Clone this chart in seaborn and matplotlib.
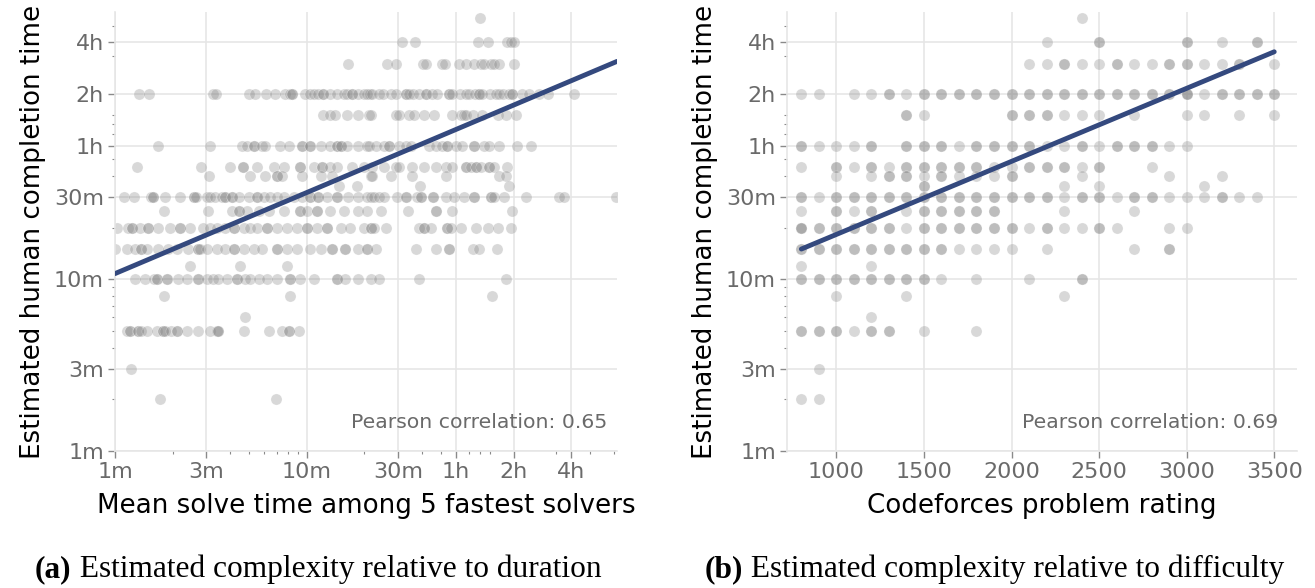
import numpy as np
import pandas as pd
import matplotlib
matplotlib.use("Agg")
import matplotlib.pyplot as plt
import seaborn as sns
from matplotlib.ticker import FixedLocator, FixedFormatter, LogLocator, NullFormatter

# ---------------- data ----------------
# Left panel: for each estimated human completion time (minutes),
# the mean solve time among the 5 fastest solvers (minutes) of each problem.
dur_330 = [80]
dur_240 = [31.3, 36.6, 77.8, 87.7, 111, 116, 120]
dur_180 = [16.5, 26.3, 29.3, 40.4, 41.7, 51.0, 52.7, 61.9, 67.6, 74.7, 80.9, 84.2,
           91.2, 95, 100.8, 120.5]
dur_120 = [1.34, 1.50, 3.24, 3.37, 4.97, 5.39, 6.15, 6.86, 7.74, 8.22, 8.39, 8.39, 9.84,
           10.4, 10.9, 11.5, 12.1, 12.1, 13.3, 14.4, 15.6, 16.2, 17.3, 17.3, 18.4, 19.9,
           21.4, 20.7, 22.0, 23.8, 25.0, 27.4, 29.1, 32.8, 32.8, 34.1, 36.0, 38.5, 41.7,
           41.7, 45.0, 48.0, 55.2, 55.2, 57.5, 63.0, 67.6, 70.3, 75.0, 79.3, 79.3, 82.5,
           90.0, 96.9, 100.8, 105.0, 113, 118, 118, 133, 144.6, 163, 180.6, 249]
dur_90 = [12.1, 13.3, 14.1, 16.2, 18.4, 21.1, 21.6, 29.1, 30.3, 34.1, 36.3, 40.9, 46.2,
          57.5, 63.6, 66.3, 67.6, 73.3, 82.5, 98.9, 109, 123]
dur_60 = [1.67, 3.13, 4.59, 4.88, 5.28, 5.28, 5.84, 6.08, 7.29, 8.05, 9.45, 9.45, 10.45,
          10.45, 11.8, 13.3, 14.4, 14.4, 15.0, 15.0, 16.2, 18.4, 20.7, 21.1, 22.9, 25.3,
          26.8, 26.8, 30.3, 32.8, 34.8, 43.4, 47.1, 51.0, 54.2, 54.2, 59.9, 64.9, 74.7,
          74.7, 84.2, 89.3, 100.8, 125.5, 147.6]
dur_45 = [1.31, 2.81, 3.99, 4.65, 4.65, 5.50, 6.72, 7.59, 9.27, 9.27, 10.9, 12.0, 12.0,
          13.3, 14.4, 17.3, 19.9, 22.0, 25.3, 29.1, 30.3, 35.5, 40.9, 47.1, 53.1, 57.5,
          67.6, 67.6, 71.8, 76.2, 76.2, 80.9, 89.3, 89.3, 95, 111]
dur_40 = [3.11, 5.08, 6.08, 7.0, 7.0, 7.43, 9.45, 11.8, 13.5, 21.6, 22.0, 27.4, 35.3,
          53.1, 100.8, 109]
dur_35 = [14.7, 18.2, 38.8, 113]
dur_30 = [1.12, 1.25, 1.54, 1.58, 1.58, 1.82, 2.17, 2.57, 2.57, 2.65, 3.01, 3.13, 3.33,
          3.61, 3.76, 3.76, 4.07, 4.07, 4.41, 4.97, 5.50, 5.50, 5.96, 6.46, 7.0, 7.59,
          8.56, 9.45, 10.45, 10.45, 11.5, 11.5, 12.8, 14.4, 14.4, 16.5, 18.4, 20.7, 21.6,
          22.4, 23.8, 25.3, 29.7, 32.8, 32.8, 37.7, 39.3, 39.3, 45.3, 45.3, 53.1, 58.7,
          66.3, 74.7, 74.7, 91.2, 91.2, 95, 107, 139, 208, 220, 411]
dur_25 = [1.80, 3.07, 4.07, 4.41, 4.41, 4.88, 5.61, 6.32, 7.59, 9.27, 9.27, 10.0, 11.3,
          11.3, 13.3, 15.6, 18.4, 20.7, 24.3, 33.9, 47.1, 47.1, 57.5, 117]
dur_20 = [1.02, 1.17, 1.22, 1.22, 1.35, 1.49, 1.49, 1.68, 1.93, 2.19, 2.19, 2.46, 2.89,
          3.13, 3.40, 3.76, 4.16, 4.16, 4.68, 5.08, 5.50, 6.20, 6.20, 7.0, 7.90, 8.91,
          10.0, 10.0, 11.3, 12.8, 12.8, 15.0, 16.9, 19.9, 21.6, 21.6, 22.4, 25.8, 38.5,
          40.9, 40.9, 44.3, 54.2, 54.2, 56.4, 63.6, 76.2, 87.7, 98.9, 116]
dur_15 = [1.0, 1.15, 1.27, 1.37, 1.37, 1.46, 1.68, 1.89, 2.10, 2.41, 2.72, 2.72, 2.78,
          3.01, 3.40, 3.76, 4.16, 4.16, 4.68, 5.28, 5.84, 7.0, 7.0, 7.90, 8.91, 10.45,
          11.8, 13.5, 13.5, 15.9, 15.9, 18.4, 20.7, 20.7, 22.9, 37.0, 47.5, 55.2, 55.2,
          73.3, 79.3, 97.7]
dur_12 = [2.46, 4.47, 7.90]
dur_10 = [1.27, 1.43, 1.59, 1.65, 1.65, 1.86, 1.86, 2.14, 2.37, 2.72, 2.72, 3.01, 3.26,
          3.46, 3.84, 4.33, 4.33, 4.78, 5.08, 5.61, 6.20, 7.0, 8.22, 8.22, 9.27, 10.9,
          14.3, 14.3, 15.9, 18.4, 21.6, 23.8, 38.5, 110]
dur_8 = [1.81, 8.22, 92.3]
dur_6 = [4.74]
dur_5 = [1.15, 1.20, 1.20, 1.32, 1.32, 1.37, 1.46, 1.65, 1.78, 1.78, 1.82, 1.97, 2.10,
         2.10, 2.37, 2.72, 3.13, 3.40, 3.46, 3.46, 4.72, 6.32, 7.43, 8.05, 8.05, 9.08]
dur_3 = [1.21]
dur_2 = [1.71, 6.94]

# Right panel: for each estimated human completion time (minutes),
# the Codeforces rating of each problem (repeats = several problems).
cf_330 = [2400]
cf_240 = [2200, 2500, 2500, 3000, 3000, 3200, 3400, 3400]
cf_180 = [2100, 2200, 2300, 2300, 2400, 2500, 2600, 2600, 2700, 2800, 2900, 2900, 3000,
          3000, 3100, 3200, 3300, 3300, 3500]
cf_120 = [800, 900, 1100, 1200, 1300, 1300, 1400, 1500, 1500, 1600, 1600, 1700, 1700,
          1800, 1800, 1900, 1900, 2000, 2000, 2100, 2100, 2200, 2200, 2300, 2300, 2400,
          2400, 2500, 2500, 2600, 2600, 2700, 2700, 2800, 2800, 2900, 2900, 3000, 3000,
          3000, 3100, 3200, 3200, 3300, 3300, 3400, 3400, 3500, 3500]
cf_90 = [1400, 1400, 1500, 2000, 2000, 2100, 2100, 2200, 2200, 2300, 2400, 2500, 2700,
         3000, 3100, 3300, 3500]
cf_60 = [800, 800, 900, 1000, 1100, 1200, 1200, 1400, 1400, 1500, 1500, 1600, 1600, 1700,
         1800, 1800, 1900, 1900, 2000, 2000, 2100, 2100, 2200, 2300, 2400, 2400, 2500,
         2600, 2600, 2700, 2700, 2800, 2800, 2900, 3000]
cf_45 = [800, 1000, 1000, 1100, 1200, 1200, 1300, 1400, 1400, 1500, 1500, 1600, 1600,
         1700, 1700, 1800, 1800, 1900, 2000, 2100, 2100, 2200, 2200, 2300, 2300, 2400,
         2500, 2500, 2800]
cf_40 = [1000, 1200, 1300, 1300, 1400, 1400, 1500, 1600, 1600, 1700, 1800, 1900, 2000,
         2000, 2400, 2900, 3200]
cf_35 = [1500, 1500, 2300, 2500, 3100]
cf_30 = [800, 800, 900, 1000, 1000, 1100, 1100, 1200, 1200, 1300, 1300, 1400, 1400, 1500,
         1500, 1600, 1600, 1700, 1700, 1800, 1800, 1900, 1900, 2000, 2000, 2100, 2100,
         2200, 2200, 2300, 2400, 2400, 2500, 2500, 2600, 2700, 2700, 2800, 2800, 2900,
         3000, 3100, 3200, 3200, 3300, 3400]
cf_25 = [800, 1000, 1000, 1100, 1200, 1200, 1400, 1500, 1500, 1600, 1600, 1700, 1700,
         1800, 1800, 1900, 1900, 2300, 2700]
cf_20 = [800, 800, 800, 900, 900, 1000, 1000, 1100, 1100, 1200, 1200, 1300, 1300, 1400,
         1500, 1500, 1600, 1600, 1700, 1700, 1800, 1800, 1900, 1900, 2000, 2000, 2100,
         2200, 2200, 2300, 2400, 2500, 2500, 2600, 2900, 3000]
cf_15 = [800, 800, 900, 900, 1000, 1000, 1100, 1100, 1200, 1200, 1300, 1300, 1400, 1400,
         1500, 1500, 1600, 1600, 1700, 1800, 1900, 2000, 2200, 2700, 2900, 2900]
cf_12 = [800, 1200]
cf_10 = [800, 800, 900, 900, 1000, 1000, 1100, 1100, 1200, 1200, 1300, 1300, 1400, 1400,
         1500, 1500, 1600, 1800, 2100, 2400, 2400]
cf_8 = [1000, 1400, 2300]
cf_6 = [1200]
cf_5 = [800, 800, 900, 900, 1000, 1000, 1100, 1200, 1200, 1300, 1300, 1500, 1800]
cf_3 = [900]
cf_2 = [800, 900]

time_levels = [330, 240, 180, 120, 90, 60, 45, 40, 35, 30, 25, 20, 15, 12, 10, 8, 6, 5, 3, 2]
dur_rows = [dur_330, dur_240, dur_180, dur_120, dur_90, dur_60, dur_45, dur_40, dur_35,
            dur_30, dur_25, dur_20, dur_15, dur_12, dur_10, dur_8, dur_6, dur_5, dur_3, dur_2]
cf_rows = [cf_330, cf_240, cf_180, cf_120, cf_90, cf_60, cf_45, cf_40, cf_35, cf_30,
           cf_25, cf_20, cf_15, cf_12, cf_10, cf_8, cf_6, cf_5, cf_3, cf_2]

# Fitted trend lines (log10 of minutes)
fit_left = {"intercept": 1.033, "slope": 0.472}        # vs log10(solve minutes)
fit_right = {"intercept": 0.8357, "slope": 0.0004254}  # vs rating
fit_left_range = [1, 415]
fit_right_range = [800, 3500]

time_ticks = [1, 3, 10, 30, 60, 120, 240]
time_tick_labels = ["1m", "3m", "10m", "30m", "1h", "2h", "4h"]
rating_ticks = [1000, 1500, 2000, 2500, 3000, 3500]
rating_tick_labels = ["1000", "1500", "2000", "2500", "3000", "3500"]

pearson_left = "Pearson correlation: 0.65"
pearson_right = "Pearson correlation: 0.69"
ylabel = "Estimated human completion time"
xlabel_left = "Mean solve time among 5 fastest solvers"
xlabel_right = "Codeforces problem rating"
cap_a_bold, cap_a_text = "(a)", " Estimated complexity relative to duration"
cap_b_bold, cap_b_text = "(b)", " Estimated complexity relative to difficulty"

# ---------------- tables ----------------
df_dur = pd.DataFrame([(x, lvl) for lvl, row in zip(time_levels, dur_rows) for x in row],
                      columns=["solve", "human"])
df_cf = pd.DataFrame([(x, lvl) for lvl, row in zip(time_levels, cf_rows) for x in row],
                     columns=["rating", "human"])
xl = np.geomspace(fit_left_range[0], fit_left_range[1], 50)
df_fit_left = pd.DataFrame({"solve": xl,
                            "human": 10 ** (fit_left["intercept"] + fit_left["slope"] * np.log10(xl))})
xr = np.linspace(fit_right_range[0], fit_right_range[1], 50)
df_fit_right = pd.DataFrame({"rating": xr,
                             "human": 10 ** (fit_right["intercept"] + fit_right["slope"] * xr)})

# ---------------- style ----------------
sns.set_theme(style="whitegrid")
plt.rcParams["font.family"] = ["DejaVu Sans"]

LINE = "#34497e"
GRID = "#e6e6e6"
TICKTXT = "#6a6a6a"

fig = plt.figure(figsize=(13.15, 5.88), dpi=100)
W, H = 1315, 588
ax1 = fig.add_axes([115 / W, 1 - 451 / H, (617 - 115) / W, (451 - 12) / H])
ax2 = fig.add_axes([787 / W, 1 - 451 / H, (1297 - 787) / W, (451 - 12) / H])


def style_axes(ax):
    ax.set_facecolor("white")
    for side in ["top", "right"]:
        ax.spines[side].set_visible(False)
    for side in ["left", "bottom"]:
        ax.spines[side].set_visible(True)
        ax.spines[side].set_color(GRID)
        ax.spines[side].set_linewidth(1.2)
    ax.grid(True, which="major", color=GRID, linewidth=1.2)
    ax.grid(False, which="minor")
    ax.tick_params(axis="both", which="major", length=5, width=1, color="#8a8a8a",
                   labelcolor=TICKTXT, labelsize=16, left=True, bottom=True, pad=3)
    ax.tick_params(axis="both", which="minor", length=2.5, width=0.8, color="#8a8a8a",
                   left=True, bottom=True)
    ax.set_axisbelow(True)


def time_axis(axis):
    axis.set_major_locator(FixedLocator(time_ticks))
    axis.set_major_formatter(FixedFormatter(time_tick_labels))
    axis.set_minor_locator(LogLocator(base=10, subs=np.arange(2, 10)))
    axis.set_minor_formatter(NullFormatter())


scatter_kw = dict(color="#808080", alpha=0.3, s=64, edgecolor="white", linewidth=0.5,
                  legend=False, zorder=2)

# ---- left panel ----
sns.scatterplot(data=df_dur, x="solve", y="human", ax=ax1, **scatter_kw)
sns.lineplot(data=df_fit_left, x="solve", y="human", ax=ax1, color=LINE, linewidth=3.5,
             zorder=3)
ax1.set_xscale("log")
ax1.set_yscale("log")
ax1.set_xlim(1, 415)
ax1.set_ylim(1, 360)
style_axes(ax1)
time_axis(ax1.xaxis)
time_axis(ax1.yaxis)
ax1.set_xlabel(xlabel_left, fontsize=18.8, color="black", labelpad=8)
ax1.set_ylabel(ylabel, fontsize=18.8, color="black", labelpad=6)
ax1.text(0.98, 0.066, pearson_left, transform=ax1.transAxes, ha="right", va="center",
         fontsize=14.7, color=TICKTXT)

# ---- right panel ----
sns.scatterplot(data=df_cf, x="rating", y="human", ax=ax2, **scatter_kw)
sns.lineplot(data=df_fit_right, x="rating", y="human", ax=ax2, color=LINE, linewidth=3.5,
             zorder=3)
ax2.set_yscale("log")
ax2.set_xlim(718, 3630)
ax2.set_ylim(1, 360)
style_axes(ax2)
time_axis(ax2.yaxis)
ax2.xaxis.set_major_locator(FixedLocator(rating_ticks))
ax2.xaxis.set_major_formatter(FixedFormatter(rating_tick_labels))
ax2.set_xlabel(xlabel_right, fontsize=18.8, color="black", labelpad=8)
ax2.set_ylabel(ylabel, fontsize=18.8, color="black", labelpad=6)
ax2.text(0.963, 0.066, pearson_right, transform=ax2.transAxes, ha="right", va="center",
         fontsize=14.7, color=TICKTXT)

# ---- captions ----
serif = ["Liberation Serif", "DejaVu Serif"]
for x0, bold, rest in [(35 / W, cap_a_bold, cap_a_text), (705 / W, cap_b_bold, cap_b_text)]:
    t = fig.text(x0, 0.018, bold, fontsize=22.6, fontweight="bold", family=serif,
                 ha="left", va="baseline", color="black")
    ax1.annotate(rest, xy=(1, 0.018), xycoords=(t, "figure fraction"), fontsize=22.6,
                 family=serif, ha="left", va="baseline", color="black",
                 annotation_clip=False)

fig.savefig("out.png", dpi=100)
